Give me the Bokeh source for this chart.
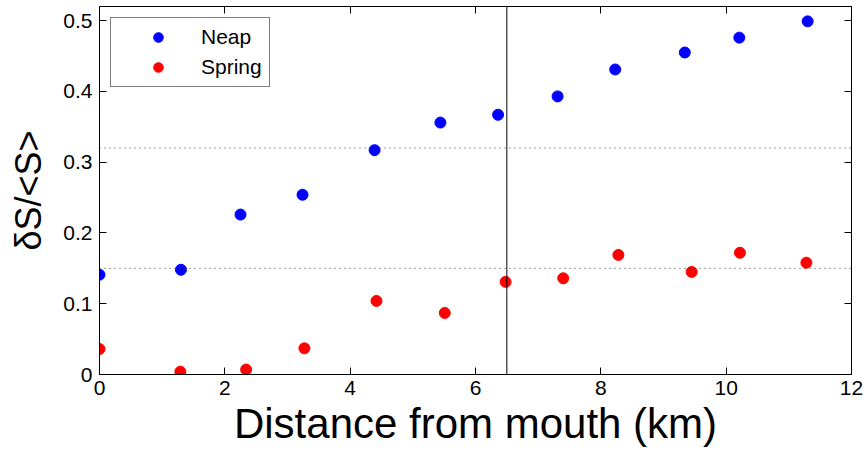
from bokeh.plotting import figure
from bokeh.models import Span, LinearAxis, FixedTicker, Legend, LegendItem
from bokeh.embed import file_html
from bokeh.resources import INLINE

# ---- data ----
neap_x = [0.0, 1.30, 2.25, 3.24, 4.39, 5.44, 6.36, 7.31, 8.23, 9.34, 10.21, 11.30]
neap_y = [0.141, 0.148, 0.226, 0.254, 0.317, 0.356, 0.367, 0.393, 0.431, 0.455, 0.476, 0.499]
spring_x = [0.0, 1.29, 2.34, 3.27, 4.42, 5.51, 6.48, 7.40, 8.28, 9.45, 10.22, 11.28]
spring_y = [0.036, 0.004, 0.007, 0.037, 0.104, 0.087, 0.131, 0.136, 0.169, 0.145, 0.172, 0.158]
ref_levels = [0.32, 0.15]
boundary_x = [6.5]
x_ticks = [0, 2, 4, 6, 8, 10, 12]
x_tick_labels = ["0", "2", "4", "6", "8", "10", "12"]
y_ticks = [0, 0.1, 0.2, 0.3, 0.4, 0.5]
y_tick_labels = ["0", "0.1", "0.2", "0.3", "0.4", "0.5"]
series_names = ["Neap", "Spring"]
x_label = "Distance from mouth (km)"
y_label = "δS/<S>"

FONT = "Liberation Sans"

p = figure(width=868, height=455, x_range=(0, 12), y_range=(0, 0.52),
           output_backend="svg", toolbar_location=None,
           min_border_left=99, min_border_right=17, min_border_top=6, min_border_bottom=81,
           x_axis_label=x_label, y_axis_label=y_label)
p.background_fill_color = "white"
p.border_fill_color = "white"
p.outline_line_color = "black"
p.outline_line_width = 1
p.xgrid.visible = False
p.ygrid.visible = False

def style_axis(ax, ticks, labels, show_labels=True):
    ax.ticker = FixedTicker(ticks=ticks)
    ax.major_tick_in = 7
    ax.major_tick_out = 0
    ax.minor_tick_line_color = None
    ax.major_tick_line_color = "black"
    ax.axis_line_color = "black"
    ax.major_label_text_font = FONT
    if show_labels:
        ax.major_label_overrides = dict(zip(ticks, labels))
        ax.major_label_text_font_size = "21px"
        ax.major_label_text_color = "black"
    else:
        ax.major_label_text_font_size = "1px"
        ax.major_label_text_color = None
        ax.major_label_standoff = 0

style_axis(p.xaxis[0], x_ticks, x_tick_labels)
style_axis(p.yaxis[0], y_ticks, y_tick_labels)
p.xaxis[0].major_label_standoff = 6
p.yaxis[0].major_label_standoff = 7
p.xaxis[0].axis_label_text_font = FONT
p.xaxis[0].axis_label_text_font_size = "42px"
p.xaxis[0].axis_label_text_font_style = "normal"
p.xaxis[0].axis_label_text_color = "black"
p.xaxis[0].axis_label_standoff = 2
p.yaxis[0].axis_label_text_font = FONT
p.yaxis[0].axis_label_text_font_size = "36px"
p.yaxis[0].axis_label_text_font_style = "normal"
p.yaxis[0].axis_label_text_color = "black"
p.yaxis[0].axis_label_standoff = 11

top_ax = LinearAxis()
style_axis(top_ax, x_ticks, x_tick_labels, show_labels=False)
p.add_layout(top_ax, "above")
right_ax = LinearAxis()
style_axis(right_ax, y_ticks, y_tick_labels, show_labels=False)
p.add_layout(right_ax, "right")

for lv in ref_levels:
    p.add_layout(Span(location=lv, dimension="width", line_color="#333333",
                      line_width=1, line_dash="1 4"))
for bx in boundary_x:
    p.add_layout(Span(location=bx, dimension="height", line_color="black", line_width=1))

r_neap = p.scatter(neap_x, neap_y, size=11, fill_color="#0000FF", line_color="#0000FF")
r_spring = p.scatter(spring_x, spring_y, size=11, fill_color="#FF0000", line_color="#FF0000")

legend = Legend(items=[LegendItem(label=series_names[0], renderers=[r_neap]),
                       LegendItem(label=series_names[1], renderers=[r_spring])],
                location="top_left")
legend.margin = 11
legend.padding = 7
legend.spacing = 6
legend.glyph_width = 80
legend.glyph_height = 24
legend.label_height = 24
legend.label_standoff = 3
legend.label_text_font = FONT
legend.label_text_font_size = "21px"
legend.label_text_color = "black"
legend.border_line_color = "black"
legend.border_line_width = 1
legend.background_fill_color = "white"
legend.background_fill_alpha = 1
p.add_layout(legend, "center")

open("out.html", "w").write(file_html(p, INLINE))
